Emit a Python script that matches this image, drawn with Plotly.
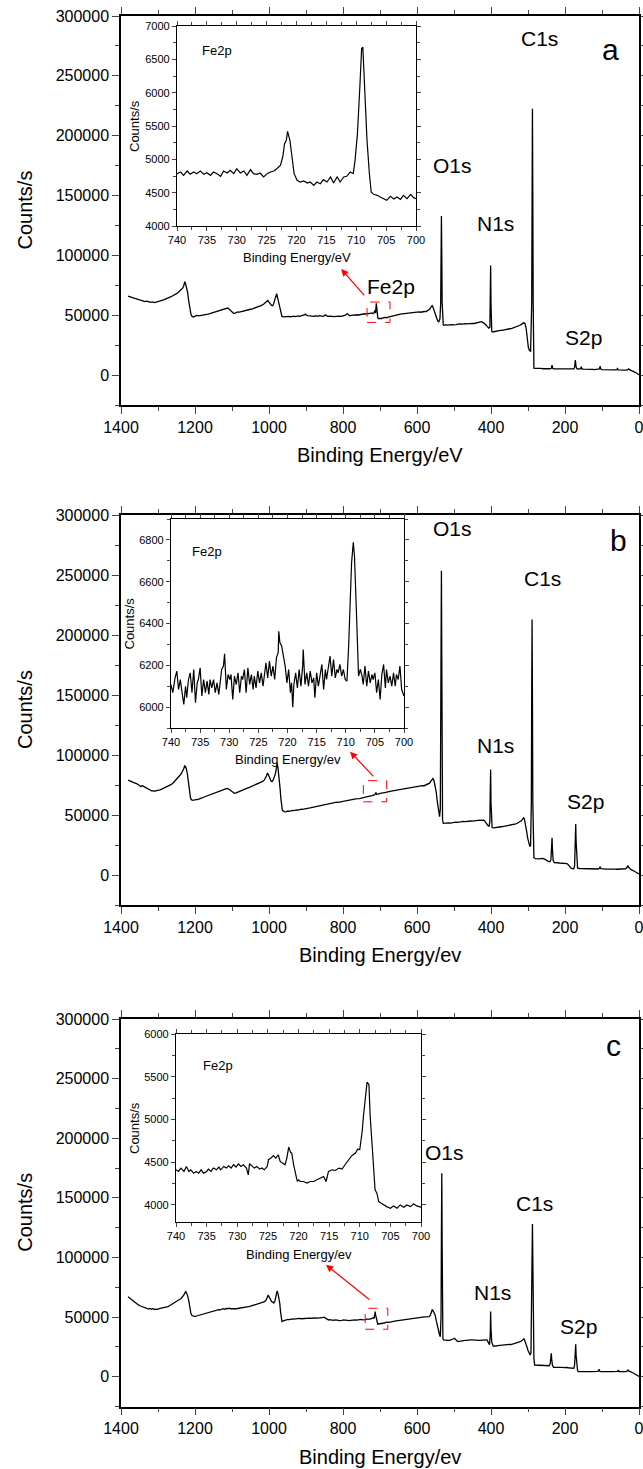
import plotly.graph_objects as go

# ---------------- survey spectra (binding energy eV, counts/s) ----------------
a_ev = [1381, 1375, 1370, 1365, 1360, 1355, 1350, 1345, 1340, 1335, 1330, 1325, 1320, 1315, 1310, 1305, 1300,
        1295, 1290, 1285, 1280, 1275, 1270, 1265, 1260, 1255, 1250, 1245, 1240, 1236, 1233, 1230, 1228, 1226,
        1223, 1220, 1217, 1214, 1211, 1208, 1204, 1200, 1195, 1190, 1185, 1180, 1175, 1170, 1165, 1160, 1155,
        1150, 1145, 1140, 1135, 1130, 1125, 1120, 1115, 1112, 1108, 1104, 1100, 1096, 1092, 1088, 1084, 1080,
        1075, 1070, 1065, 1060, 1055, 1050, 1045, 1040, 1035, 1030, 1025, 1020, 1015, 1010, 1006, 1003, 1000,
        997, 993, 990, 987, 984, 981, 979, 977, 974, 971, 968, 965, 961, 957, 953, 949, 945, 941, 937, 933,
        929, 925, 921, 917, 913, 909, 905, 902, 899, 895, 891, 887, 883, 879, 875, 871, 867, 863, 859, 855,
        851, 848, 845, 841, 837, 833, 829, 825, 821, 817, 813, 809, 805, 801, 797, 793, 789, 786, 782, 778,
        774, 770, 766, 762, 758, 754, 750, 746, 742, 738, 734, 730, 726, 722, 719, 716, 714, 712, 710, 708,
        706, 703, 700, 697, 694, 690, 686, 682, 678, 674, 670, 665, 660, 655, 650, 645, 640, 635, 630, 625,
        620, 615, 610, 605, 600, 595, 590, 585, 580, 575, 570, 566, 562, 559, 556, 553, 550, 547, 544, 541,
        538, 536, 535, 534, 533, 532, 531, 529, 526, 522, 518, 514, 510, 506, 502, 498, 494, 490, 486, 482,
        478, 474, 470, 465, 460, 455, 450, 445, 440, 435, 430, 426, 422, 418, 414, 410, 406, 403, 402, 401,
        400, 399, 398, 395, 390, 385, 380, 375, 370, 365, 360, 355, 350, 345, 340, 335, 330, 326, 322, 318,
        314, 311, 308, 305, 302, 299, 296, 293, 290, 289, 288, 287, 286, 285, 284, 280, 275, 270, 265, 260,
        255, 250, 245, 240, 237, 235, 233, 230, 225, 220, 215, 210, 205, 200, 195, 190, 185, 180, 176, 174,
        172, 170, 168, 165, 162, 158, 156, 154, 150, 145, 140, 135, 130, 125, 120, 115, 110, 107, 105, 103,
        100, 95, 90, 85, 80, 75, 70, 65, 60, 58, 56, 50, 45, 40, 35, 30, 28, 26, 22, 18, 14, 10, 6, 3, 0]
a_counts = [66000, 65200, 64800, 64300, 63900, 63200, 62800, 62500, 62000, 61400, 61800, 61000, 60700, 61200,
            60500, 61000, 61300, 61900, 62200, 62800, 63500, 64000, 64800, 65500, 66300, 67000, 68000, 69200,
            70500, 71500, 72800, 75000, 78000, 77000, 74000, 69000, 62000, 56000, 51000, 49000, 48500, 49200,
            49800, 49400, 49600, 50300, 50000, 50800, 51000, 51400, 51900, 52300, 52500, 53000, 53400, 53800,
            54300, 54800, 55500, 56000, 55200, 53800, 52500, 51600, 51800, 52300, 52700, 52600, 53100, 53500,
            53700, 54200, 54600, 55000, 55300, 55800, 56400, 57000, 57600, 58300, 59200, 60400, 61500, 62300,
            61000, 59500, 58200, 58000, 60000, 63500, 67000, 68000, 65000, 61000, 57000, 52000, 49000, 48700,
            48900, 48500, 48800, 49100, 48700, 49000, 49300, 48900, 49200, 49500, 49100, 49400, 49700, 50200,
            51000, 50000, 49600, 49300, 49500, 49200, 49000, 49400, 49100, 49300, 49600, 49200, 49000, 49400,
            50300, 49700, 49000, 49300, 48900, 49100, 48800, 49000, 48700, 49100, 49300, 49000, 49500, 49800,
            50100, 51400, 50200, 49500, 49800, 50100, 49900, 50300, 50400, 50200, 50600, 50500, 50800, 51200,
            50900, 51500, 51300, 51800, 52000, 51300, 52200, 54000, 51800, 60000, 53000, 48000, 47000, 47500,
            47100, 47600, 48000, 48200, 47800, 48400, 48800, 49200, 49600, 50000, 50300, 50600, 50900, 51100,
            50900, 51400, 51700, 52000, 52300, 52100, 52400, 52600, 52800, 52500, 52900, 53100, 53000, 53800,
            55000, 57000, 58000, 56000, 53000, 50000, 47000, 45200, 44600, 47000, 60000, 100000, 133000, 100000,
            60000, 43000, 42000, 41600, 42100, 41700, 42000, 41800, 42200, 42000, 42400, 42200, 42500, 42300,
            42700, 42600, 42900, 43000, 42800, 43100, 43000, 43200, 43100, 43500, 43700, 44000, 44600, 44000,
            43200, 42000, 40500, 39300, 40000, 70000, 91500, 60000, 40000, 36500, 36000, 36500, 36700, 37000,
            37400, 37300, 37800, 38000, 38300, 38700, 38800, 39300, 39700, 40300, 40900, 41600, 42400, 43200,
            43800, 43000, 39000, 31000, 23000, 20500, 20000, 60000, 150000, 222600, 150000, 60000, 15000, 5800,
            5600, 5700, 5400, 5600, 5300, 5500, 5200, 5400, 5300, 5600, 8400, 5500, 5200, 5300, 5100, 5300,
            5000, 5200, 5100, 5000, 5200, 5000, 4900, 5100, 6500, 12500, 7000, 5400, 5100, 5000, 5300, 7000,
            5000, 4900, 5000, 4800, 4900, 4700, 4800, 4600, 4700, 4700, 5200, 7500, 5000, 4600, 4500, 4600,
            4400, 4500, 4400, 4300, 4400, 4600, 5500, 4300, 4200, 4300, 4100, 4200, 4600, 5200, 4500, 4100,
            3600, 3000, 2300, 1500, 800, 300]

b_ev = [1381, 1376, 1371, 1366, 1361, 1357, 1353, 1349, 1346, 1343, 1340, 1336, 1332, 1328, 1324, 1320, 1316,
        1312, 1308, 1304, 1300, 1295, 1290, 1285, 1280, 1275, 1270, 1265, 1260, 1256, 1252, 1248, 1244, 1240,
        1236, 1233, 1230, 1228, 1226, 1224, 1221, 1218, 1215, 1212, 1209, 1205, 1201, 1197, 1193, 1189, 1185,
        1181, 1177, 1173, 1169, 1165, 1161, 1157, 1153, 1149, 1145, 1141, 1137, 1133, 1129, 1125, 1121, 1117,
        1113, 1109, 1105, 1101, 1097, 1093, 1089, 1085, 1081, 1077, 1073, 1069, 1065, 1061, 1057, 1053, 1049,
        1045, 1041, 1037, 1033, 1029, 1025, 1021, 1017, 1013, 1010, 1007, 1004, 1001, 998, 995, 992, 989, 986,
        983, 980, 978, 976, 974, 972, 970, 968, 966, 964, 961, 957, 953, 949, 945, 941, 937, 933, 929, 925,
        921, 917, 913, 909, 905, 901, 897, 893, 889, 885, 881, 877, 873, 869, 865, 861, 857, 853, 849, 845,
        841, 837, 833, 829, 825, 821, 817, 813, 809, 805, 801, 797, 793, 789, 785, 781, 777, 773, 769, 765,
        761, 757, 753, 749, 745, 741, 737, 733, 729, 725, 721, 717, 714, 711, 709, 706, 702, 698, 694, 690,
        686, 682, 678, 674, 670, 666, 662, 658, 654, 650, 646, 642, 638, 634, 630, 626, 622, 618, 614, 610,
        606, 602, 598, 594, 590, 586, 582, 578, 574, 570, 566, 563, 560, 557, 554, 551, 548, 545, 542, 539,
        537, 536, 535, 534, 533, 532, 531, 529, 525, 520, 515, 510, 505, 500, 495, 490, 485, 480, 475, 470,
        465, 460, 455, 450, 445, 440, 435, 430, 425, 421, 417, 413, 409, 405, 403, 402, 401, 400, 399, 397,
        393, 389, 385, 381, 377, 373, 369, 365, 361, 357, 353, 349, 345, 341, 337, 333, 329, 325, 321, 318,
        315, 312, 310, 307, 304, 301, 298, 295, 293, 291, 290, 289, 288, 287, 286, 284, 280, 275, 270, 265,
        260, 255, 250, 246, 243, 240, 238, 236, 235, 234, 232, 229, 225, 220, 215, 210, 205, 200, 195, 192,
        189, 186, 183, 180, 176, 174, 172, 171, 170, 168, 166, 160, 155, 150, 145, 140, 135, 130, 125, 120,
        115, 110, 107, 105, 103, 100, 95, 90, 85, 80, 75, 70, 65, 60, 55, 50, 45, 40, 36, 33, 30, 27, 24,
        20, 16, 12, 8, 4, 0]
b_counts = [79000, 78500, 78000, 77200, 77000, 76000, 75200, 74300, 73600, 74500, 74000, 72800, 72000, 71300,
            70800, 70200, 69900, 70300, 69800, 70400, 70500, 71000, 71500, 72200, 72800, 73600, 74400, 75300,
            76500, 77800, 78800, 80000, 81600, 83300, 85000, 86500, 89000, 91000, 90500, 89000, 85000, 78000,
            70000, 64000, 62600, 62200, 62500, 63000, 62800, 63500, 64000, 64200, 64800, 65300, 65500, 66200,
            66800, 67200, 67600, 68300, 68700, 69400, 69800, 70300, 70500, 71000, 71400, 71800, 72200, 71700,
            70800, 69800, 68800, 68000, 68400, 69000, 69400, 70100, 70600, 71000, 71500, 72200, 72600, 73100,
            73600, 74200, 74800, 75300, 75800, 76400, 76900, 77400, 78000, 79000, 80500, 82500, 85000, 83500,
            81000, 78500, 77800, 79000, 81000, 84000, 89000, 93000, 90000, 85000, 79000, 72000, 64000, 57000,
            54000, 53200, 52600, 52900, 53300, 53000, 53500, 53800, 53600, 54100, 54300, 54100, 54600, 54800,
            54700, 55100, 55200, 55400, 55700, 55900, 56200, 56400, 56800, 57100, 57300, 57700, 58000, 58200,
            58400, 58800, 59100, 59400, 59500, 59900, 60200, 60100, 60400, 60700, 60500, 60800, 61100, 61300,
            61500, 61800, 62000, 62400, 62500, 62800, 62900, 63200, 63400, 63300, 63700, 63900, 64100, 64500,
            64700, 65000, 65400, 65700, 65900, 66200, 66600, 66900, 68800, 67200, 67500, 67900, 68200, 68500,
            68400, 68800, 69100, 69300, 69600, 69900, 70100, 70300, 70700, 70900, 71100, 71400, 71600, 71900,
            72100, 72400, 72500, 72800, 73000, 73300, 73400, 73700, 73900, 74100, 74000, 74300, 74500, 74200,
            74700, 75000, 75500, 76500, 78000, 79500, 80500, 78500, 74000, 69000, 61000, 53000, 48600, 55000,
            120000, 200000, 253600, 180000, 90000, 46000, 43000, 43200, 43000, 43400, 43300, 43700, 43600, 44000,
            43900, 44300, 44200, 44600, 44500, 44800, 44700, 45000, 44900, 45200, 45300, 45400, 45700, 45600,
            45800, 45000, 43000, 41500, 40500, 45000, 70000, 88000, 60000, 42000, 39500, 39200, 39500, 39700,
            39800, 40000, 40200, 40300, 40500, 40700, 40800, 41000, 41200, 41500, 41800, 42200, 42600, 43100,
            43700, 44400, 45200, 46300, 47700, 47000, 43000, 37000, 31000, 26000, 23600, 24500, 60000, 150000,
            213000, 150000, 60000, 20000, 14500, 13600, 13300, 13500, 13700, 13900, 13200, 12500, 11500, 11000,
            11300, 13000, 25000, 31000, 22000, 12000, 10300, 10000, 10200, 10000, 9900, 10100, 9800, 9500, 8800,
            7500, 6200, 5500, 5300, 5200, 8000, 25000, 42500, 28000, 9000, 5600, 5400, 5300, 5200, 5400, 5200,
            5300, 5100, 5200, 5000, 5100, 5000, 5500, 7000, 5300, 5000, 5100, 4900, 5000, 4900, 5000, 4800, 4900,
            4800, 4900, 4700, 4800, 4700, 5200, 6200, 7800, 6000, 4800, 4200, 3700, 3000, 2200, 1400, 800]

c_ev = [1381, 1377, 1373, 1369, 1365, 1361, 1357, 1353, 1349, 1345, 1341, 1337, 1333, 1329, 1325, 1321, 1317,
        1313, 1309, 1305, 1301, 1297, 1293, 1289, 1285, 1281, 1277, 1273, 1269, 1265, 1261, 1257, 1253, 1249,
        1245, 1241, 1237, 1233, 1230, 1227, 1225, 1223, 1220, 1217, 1214, 1211, 1208, 1204, 1200, 1196, 1192,
        1188, 1184, 1180, 1176, 1172, 1168, 1164, 1160, 1156, 1152, 1148, 1144, 1140, 1136, 1132, 1128, 1124,
        1120, 1116, 1112, 1108, 1104, 1100, 1096, 1092, 1088, 1084, 1080, 1076, 1072, 1068, 1064, 1060, 1056,
        1052, 1048, 1044, 1040, 1036, 1032, 1028, 1024, 1020, 1016, 1012, 1008, 1005, 1002, 999, 996, 993, 990,
        987, 984, 981, 979, 978, 976, 973, 971, 969, 967, 965, 961, 957, 953, 949, 945, 941, 937, 933, 929,
        925, 921, 917, 913, 909, 905, 901, 897, 893, 889, 885, 881, 877, 873, 869, 865, 861, 857, 853, 850,
        847, 843, 839, 835, 831, 827, 823, 819, 815, 811, 807, 803, 799, 795, 791, 787, 783, 779, 775, 771,
        767, 763, 759, 755, 751, 747, 743, 739, 735, 731, 727, 723, 720, 718, 716, 714, 713, 712, 710, 708,
        706, 703, 700, 697, 694, 691, 688, 685, 682, 679, 676, 672, 668, 664, 660, 656, 652, 648, 644, 640,
        636, 632, 628, 624, 620, 616, 612, 608, 604, 600, 596, 592, 588, 584, 580, 576, 572, 567, 564, 561,
        559, 557, 554, 551, 548, 545, 542, 539, 537, 535, 534, 533, 532, 531, 530, 528, 524, 520, 516, 512,
        508, 504, 501, 499, 497, 494, 490, 486, 482, 478, 474, 470, 466, 462, 458, 454, 450, 446, 442, 438,
        434, 430, 426, 422, 418, 414, 411, 408, 406, 404, 402, 401, 400, 398, 396, 394, 390, 386, 382, 378,
        374, 370, 366, 362, 358, 354, 350, 346, 342, 339, 335, 331, 327, 323, 319, 316, 313, 311, 309, 307,
        305, 303, 300, 297, 294, 292, 290, 289, 288, 287, 286, 284, 282, 278, 274, 270, 266, 262, 258, 254,
        250, 246, 243, 240, 238, 237, 236, 234, 231, 227, 223, 219, 215, 211, 207, 203, 199, 195, 191, 187,
        183, 179, 176, 174, 172, 171, 170, 168, 166, 164, 160, 155, 150, 145, 140, 135, 130, 125, 120, 115,
        111, 108, 106, 102, 98, 94, 90, 86, 82, 78, 74, 70, 66, 62, 58, 56, 54, 50, 46, 42, 38, 34, 32, 30,
        28, 26, 22, 18, 14, 10, 6, 3, 0]
c_counts = [67000, 66000, 64500, 63800, 62700, 61600, 61000, 60200, 59500, 59000, 58600, 58000, 57600, 57400,
            56700, 57300, 56600, 57100, 56400, 56700, 56500, 57000, 57300, 57100, 57500, 58000, 58300, 58800,
            59500, 60200, 60900, 61700, 62400, 63200, 64000, 64900, 65800, 67000, 68500, 70500, 71300, 70200,
            68000, 64000, 58000, 53000, 51300, 50800, 50400, 50900, 51300, 51700, 51900, 52300, 52600, 53000,
            53400, 53900, 54500, 54800, 55200, 55400, 55800, 56000, 56300, 56100, 56700, 57000, 56600, 57200,
            57000, 57400, 57000, 57300, 57100, 56800, 57000, 57300, 57100, 57400, 57400, 57800, 58100, 58400,
            58500, 58900, 59300, 59600, 60000, 60400, 60800, 61200, 61700, 62100, 62500, 63000, 64200, 66500,
            68500, 66500, 64000, 63000, 62500, 61800, 63500, 67000, 70000, 71900, 70000, 66000, 62000, 55000,
            49000, 46300, 46800, 47200, 47700, 48000, 47800, 48200, 48400, 48300, 48600, 48400, 48700, 48900,
            48600, 48800, 49000, 48800, 49100, 49000, 49200, 49000, 49300, 49100, 49300, 49200, 49500, 49400,
            49600, 49700, 49900, 49000, 48200, 47600, 47900, 47500, 47300, 47600, 47200, 47400, 47100, 47500,
            47300, 47600, 47400, 47200, 47500, 47000, 47300, 47600, 47400, 47700, 47500, 47800, 47600, 48000,
            47700, 48100, 47900, 48200, 48000, 48300, 48600, 49000, 49500, 48800, 52000, 54600, 52000, 49000,
            46000, 44000, 44500, 44300, 44800, 44600, 45100, 44900, 45500, 45300, 45700, 45600, 46000, 46300,
            46200, 46600, 46800, 47000, 47200, 47500, 47700, 47600, 48000, 48300, 48200, 48600, 49000, 48900,
            49200, 49400, 49500, 49700, 49600, 50000, 50000, 50200, 50100, 50300, 50400, 51500, 54000, 56000,
            55500, 53500, 51800, 47000, 42000, 37000, 35000, 33600, 50000, 120000, 170700, 110000, 50000, 32000,
            30800, 30500, 30700, 30400, 30500, 30800, 31000, 31800, 32200, 31500, 30200, 29500, 29700, 30000,
            30200, 30400, 30500, 30400, 30700, 30600, 30800, 30800, 30600, 30900, 30700, 30500, 30500, 30700,
            30600, 30900, 30800, 30800, 29500, 28000, 26800, 35000, 54600, 40000, 29000, 26000, 25700, 25900,
            25600, 26000, 26200, 26100, 26400, 26600, 26500, 26800, 27000, 27100, 27000, 27300, 27400, 27800,
            28300, 28700, 29200, 29700, 30200, 31200, 32000, 30500, 28000, 26000, 25200, 22000, 19500, 18200,
            20000, 60000, 100000, 128000, 100000, 40000, 15000, 9800, 9700, 9500, 9600, 9400, 9300, 9400, 9200,
            9300, 9000, 9200, 11000, 16000, 19600, 15000, 9500, 7800, 7900, 7700, 7800, 7900, 7700, 7800, 7600,
            7800, 7700, 7500, 7300, 7200, 7100, 7000, 10000, 20000, 27200, 18000, 8000, 5000, 4300, 4200, 4300,
            4200, 4300, 4100, 4200, 4300, 4200, 4300, 4200, 4500, 6200, 4500, 4200, 4300, 4200, 4100, 4300, 4200,
            4300, 4200, 4100, 4200, 4300, 4400, 5500, 4300, 4200, 4100, 4200, 4100, 4300, 4800, 5600, 4800, 4300,
            4000, 3500, 2800, 2100, 1300, 600, 200]

# ---------------- Fe2p insets ----------------
ia_ev = [740, 739.4, 738.9, 738.3, 737.8, 737.2, 736.7, 736.1, 735.5, 735, 734.4, 733.9, 733.3, 732.7, 732.2,
         731.6, 731.1, 730.5, 730, 729.4, 728.8, 728.3, 727.7, 727.2, 726.6, 726.1, 725.5, 724.9, 724.4, 723.8,
         723.3, 722.7, 722.3, 722, 721.7, 721.5, 721.1, 720.8, 720.4, 719.9, 719.4, 718.8, 718.2, 717.7, 717.1,
         716.6, 716, 715.5, 714.9, 714.3, 713.8, 713.2, 712.7, 712.1, 711.6, 711, 710.5, 710.2, 709.8, 709.4,
         709.1, 708.9, 708.6, 708.2, 707.8, 707.5, 707.1, 706.5, 706, 705.4, 704.9, 704.3, 703.7, 703.2, 702.6,
         702.1, 701.5, 700.9, 700.4, 700]
ia_counts = [4785, 4810, 4760, 4825, 4775, 4810, 4785, 4825, 4775, 4800, 4760, 4810, 4785, 4745, 4825, 4795,
             4835, 4785, 4860, 4795, 4825, 4760, 4845, 4785, 4775, 4795, 4735, 4785, 4810, 4825, 4860, 4910,
             5035, 5235, 5285, 5420, 5285, 5035, 4785, 4685, 4660, 4675, 4645, 4660, 4610, 4660, 4635, 4695,
             4660, 4735, 4645, 4735, 4660, 4735, 4745, 4810, 4785, 4985, 5385, 6085, 6660, 6685, 6135, 5285,
             4785, 4510, 4475, 4460, 4435, 4410, 4385, 4445, 4405, 4435, 4400, 4460, 4410, 4475, 4425, 4410]

ib_ev = [740, 739.7, 739.3, 739, 738.7, 738.4, 738.1, 737.8, 737.5, 737.3, 737, 736.7, 736.4, 736.1, 735.8,
         735.5, 735.3, 735, 734.7, 734.4, 734.1, 733.8, 733.5, 733.3, 733, 732.7, 732.4, 732.1, 731.8, 731.5,
         731.3, 731, 730.8, 730.5, 730.2, 729.9, 729.7, 729.4, 729.1, 728.8, 728.5, 728.2, 727.9, 727.7, 727.4,
         727.1, 726.8, 726.5, 726.2, 725.9, 725.7, 725.4, 725.1, 724.8, 724.5, 724.2, 723.9, 723.7, 723.4,
         723.1, 722.8, 722.5, 722.2, 721.9, 721.6, 721.5, 721.3, 721, 720.7, 720.4, 720.1, 719.8, 719.5, 719.3,
         719.1, 718.9, 718.6, 718.3, 718, 717.7, 717.4, 717.3, 717, 716.7, 716.4, 716.1, 715.8, 715.5, 715.3,
         715, 714.7, 714.4, 714.1, 713.8, 713.5, 713.3, 713, 712.7, 712.4, 712.1, 711.8, 711.5, 711.3, 711,
         710.7, 710.4, 710.1, 709.8, 709.5, 709.3, 709, 708.7, 708.5, 708.2, 708, 707.8, 707.5, 707.2, 707,
         706.7, 706.4, 706.1, 705.8, 705.5, 705.3, 705, 704.7, 704.4, 704.1, 703.8, 703.5, 703.2, 703, 702.7,
         702.4, 702.1, 701.8, 701.5, 701.3, 701, 700.7, 700.4, 700]
ib_counts = [6108, 6069, 6140, 6172, 6084, 6132, 6069, 6013, 6100, 6045, 6132, 6164, 6069, 6180, 6021, 6116,
             6132, 6188, 6053, 6132, 6069, 6124, 6061, 6132, 6092, 6132, 6069, 6116, 6061, 6148, 6180, 6196,
             6255, 6084, 6156, 6132, 6156, 6037, 6148, 6108, 6164, 6069, 6148, 6132, 6180, 6069, 6188, 6108,
             6156, 6084, 6148, 6092, 6172, 6116, 6164, 6100, 6172, 6212, 6140, 6220, 6148, 6196, 6132, 6236,
             6260, 6363, 6308, 6292, 6244, 6196, 6116, 6180, 6069, 6116, 6000, 6108, 6164, 6092, 6180, 6100,
             6196, 6276, 6108, 6164, 6100, 6172, 6116, 6140, 6045, 6164, 6100, 6156, 6204, 6084, 6180, 6132,
             6196, 6244, 6148, 6228, 6140, 6180, 6164, 6204, 6148, 6180, 6132, 6124, 6292, 6483, 6690, 6789,
             6722, 6483, 6260, 6148, 6180, 6148, 6108, 6196, 6100, 6172, 6116, 6156, 6132, 6164, 6069, 6132,
             6037, 6156, 6204, 6092, 6180, 6116, 6148, 6100, 6164, 6100, 6156, 6132, 6196, 6084, 6053]

ic_ev = [740, 739.6, 739.2, 738.7, 738.3, 737.9, 737.6, 737.1, 736.7, 736.3, 735.9, 735.5, 735, 734.7, 734.3,
         733.9, 733.4, 733, 732.7, 732.2, 731.8, 731.4, 731, 730.6, 730.2, 729.8, 729.4, 729, 728.5, 728.2, 728,
         727.6, 727.2, 726.8, 726.3, 726, 725.6, 725.1, 724.9, 724.5, 724.1, 723.7, 723.3, 723, 722.5, 722.2,
         721.9, 721.6, 721.3, 721.1, 720.8, 720.5, 720.2, 720, 719.7, 719.2, 718.6, 718.1, 717.5, 717, 716.4,
         715.9, 715.5, 715.1, 714.5, 714, 713.4, 712.9, 712.4, 711.8, 711.3, 710.7, 710.3, 710, 709.8, 709.6,
         709.4, 709.1, 708.8, 708.5, 708.3, 708, 707.7, 707.5, 707.2, 706.9, 706.5, 706.1, 705.6, 705, 704.5,
         703.9, 703.4, 702.8, 702.3, 701.7, 701.2, 700.7, 700]
ic_counts = [4411, 4392, 4431, 4392, 4450, 4392, 4411, 4372, 4392, 4372, 4411, 4372, 4392, 4419, 4392, 4431,
             4411, 4443, 4411, 4450, 4431, 4458, 4431, 4470, 4443, 4481, 4450, 4470, 4431, 4352, 4481, 4458,
             4431, 4450, 4419, 4431, 4411, 4450, 4529, 4548, 4576, 4548, 4587, 4509, 4490, 4470, 4548, 4677,
             4615, 4607, 4470, 4372, 4274, 4294, 4274, 4274, 4255, 4274, 4274, 4294, 4313, 4333, 4274, 4392,
             4411, 4403, 4431, 4419, 4470, 4529, 4576, 4607, 4654, 4646, 4744, 4862, 5038, 5273, 5437, 5410,
             5038, 4724, 4294, 4176, 4137, 4039, 4020, 4000, 3980, 3961, 3988, 3961, 4000, 3973, 4000, 3980,
             4012, 3988, 3973]

for _xs, _ys in [(a_ev, a_counts), (b_ev, b_counts), (c_ev, c_counts),
                 (ia_ev, ia_counts), (ib_ev, ib_counts), (ic_ev, ic_counts)]:
    assert len(_xs) == len(_ys), (len(_xs), len(_ys))

# ---------------- peak labels ----------------
a_names = ["C1s", "O1s", "N1s", "Fe2p", "S2p"]
a_label_ev = [270, 504, 387, 670, 150]
a_label_y = [281000, 175000, 127000, 74000, 31000]
b_names = ["O1s", "C1s", "N1s", "S2p"]
b_label_ev = [504, 260, 387, 144]
b_label_y = [289000, 247000, 108000, 61000]
c_names = ["O1s", "C1s", "N1s", "S2p"]
c_label_ev = [525, 283, 397, 163]
c_label_y = [188000, 145000, 70500, 42500]
panel_letters = ["a", "b", "c"]

# the page's default body margin is removed (post_script below), so the figure fills the window exactly
W, H = 643, 1469
FONT = "Liberation Sans, Arial, sans-serif"

def px_x(p):
    return p / W

def px_y(p):
    return 1 - p / H

main_dom = [(16, 405), (515, 905), (1019, 1406.5)]
inset_dom = [((177, 416), (26, 226)), ((171, 404), (519, 728)), ((176, 421), (1034, 1222))]
inset_ranges = [(4000, 7000, 500, 250), (5900, 6900, 200, 100), (3800, 6000, 500, 250)]
inset_tick0 = [4000, 6000, 4000]
main_xtitles = ["Binding Energy/eV", "Binding Energy/ev", "Binding Energy/ev"]
inset_xtitles = ["Binding Energy/eV", "Binding Energy/ev", "Binding Energy/ev"]

fig = go.Figure()
surveys = [(a_ev, a_counts), (b_ev, b_counts), (c_ev, c_counts)]
insets = [(ia_ev, ia_counts), (ib_ev, ib_counts), (ic_ev, ic_counts)]

for i, (xv, yv) in enumerate(surveys):
    n = i + 1
    fig.add_trace(go.Scatter(x=xv, y=yv, mode="lines", line=dict(color="black", width=1.3),
                             xaxis="x" if n == 1 else f"x{n}", yaxis="y" if n == 1 else f"y{n}",
                             showlegend=False, hoverinfo="skip"))
for i, (xv, yv) in enumerate(insets):
    n = i + 4
    fig.add_trace(go.Scatter(x=xv, y=yv, mode="lines", line=dict(color="black", width=1.2),
                             xaxis=f"x{n}", yaxis=f"y{n}", showlegend=False, hoverinfo="skip"))

annotations = []
shapes = []

layout = {}
for i in range(3):
    n = i + 1
    xk = "xaxis" if n == 1 else f"xaxis{n}"
    yk = "yaxis" if n == 1 else f"yaxis{n}"
    ya = "y" if n == 1 else f"y{n}"
    xa = "x" if n == 1 else f"x{n}"
    top, bot = main_dom[i]
    layout[xk] = dict(domain=[px_x(121), px_x(639)], anchor=ya, range=[1400, 0], automargin=False,
                      tickmode="linear", tick0=0, dtick=200, ticks="outside", ticklen=7, tickwidth=1.3,
                      minor=dict(dtick=100, ticks="outside", ticklen=4, tickwidth=1.2),
                      showline=True, linewidth=1.5, linecolor="black", mirror="ticks",
                      showgrid=False, zeroline=False, ticklabeloverflow="allow",
                      tickfont=dict(family=FONT, size=16, color="black"))
    layout[yk] = dict(domain=[px_y(bot), px_y(top)], anchor=xa, range=[-25000, 300000], automargin=False,
                      tickmode="linear", tick0=0, dtick=50000, tickformat="d",
                      ticks="outside", ticklen=7, tickwidth=1.3,
                      minor=dict(dtick=25000, ticks="outside", ticklen=4, tickwidth=1.2),
                      showline=True, linewidth=1.5, linecolor="black", mirror="ticks",
                      showgrid=False, zeroline=False, ticklabeloverflow="allow",
                      tickfont=dict(family=FONT, size=16, color="black"))
    annotations.append(dict(text="Counts/s", x=px_x(25), y=px_y((top + bot) / 2), xref="paper", yref="paper",
                            textangle=-90, showarrow=False, xanchor="center", yanchor="middle",
                            font=dict(family=FONT, size=20, color="black")))
    annotations.append(dict(text=main_xtitles[i], x=px_x(380), y=px_y(bot + 50), xref="paper", yref="paper",
                            showarrow=False, xanchor="center", yanchor="middle",
                            font=dict(family=FONT, size=20, color="black")))

for i in range(3):
    n = i + 4
    (xl, xr), (yt, yb) = inset_dom[i]
    lo, hi, dt, mdt = inset_ranges[i]
    layout[f"xaxis{n}"] = dict(domain=[px_x(xl), px_x(xr)], anchor=f"y{n}", range=[740, 700], automargin=False,
                               tickmode="linear", tick0=700, dtick=5, ticks="outside", ticklen=4, tickwidth=1,
                               minor=dict(dtick=2.5, ticks="outside", ticklen=2.5, tickwidth=1),
                               showline=True, linewidth=1.2, linecolor="black", mirror="ticks",
                               showgrid=False, zeroline=False, ticklabeloverflow="allow",
                               tickfont=dict(family=FONT, size=11, color="black"))
    layout[f"yaxis{n}"] = dict(domain=[px_y(yb), px_y(yt)], anchor=f"x{n}", range=[lo, hi], automargin=False,
                               tickmode="linear", tick0=inset_tick0[i], dtick=dt, tickformat="d",
                               ticks="outside", ticklen=4, tickwidth=1,
                               minor=dict(dtick=mdt, ticks="outside", ticklen=2.5, tickwidth=1),
                               showline=True, linewidth=1.2, linecolor="black", mirror="ticks",
                               showgrid=False, zeroline=False, ticklabeloverflow="allow",
                               tickfont=dict(family=FONT, size=11, color="black"))
    annotations.append(dict(text="Counts/s", x=px_x(xl - 42), y=px_y((yt + yb) / 2), xref="paper", yref="paper",
                            textangle=-90, showarrow=False, xanchor="center", yanchor="middle",
                            font=dict(family=FONT, size=13, color="black")))
    annotations.append(dict(text=inset_xtitles[i], x=px_x((xl + xr) / 2), y=px_y(yb + 32), xref="paper",
                            yref="paper", showarrow=False, xanchor="center", yanchor="middle",
                            font=dict(family=FONT, size=13, color="black")))

lab_font = dict(family=FONT, size=21, color="black")

def add_labels(names, evs, ys, xa, ya):
    for t, xv, yv in zip(names, evs, ys):
        annotations.append(dict(text=t, x=xv, y=yv, xref=xa, yref=ya, showarrow=False, font=lab_font))

add_labels(a_names, a_label_ev, a_label_y, "x", "y")
add_labels(b_names, b_label_ev, b_label_y, "x2", "y2")
add_labels(c_names, c_label_ev, c_label_y, "x3", "y3")

letter_pos = [(78, 272000, "x", "y"), (55, 279000, "x2", "y2"), (70, 278000, "x3", "y3")]
for letter, (xv, yv, xa, ya) in zip(panel_letters, letter_pos):
    annotations.append(dict(text=letter, x=xv, y=yv, xref=xa, yref=ya, showarrow=False,
                            font=dict(family=FONT, size=30, color="black")))

fe_pos = [(733.3, 6640, "x4", "y4"), (733.9, 6744, "x5", "y5"), (733.1, 5637, "x6", "y6")]
for xv, yv, xa, ya in fe_pos:
    annotations.append(dict(text="Fe2p", x=xv, y=yv, xref=xa, yref=ya, showarrow=False,
                            font=dict(family=FONT, size=13, color="black")))

boxes = [(735, 673, 44000, 61000, "x", "y"), (745, 682, 61000, 78600, "x2", "y2"),
         (740, 679, 39800, 57400, "x3", "y3")]
for x0, x1, y0, y1, xa, ya in boxes:
    shapes.append(dict(type="rect", x0=x0, x1=x1, y0=y0, y1=y1, xref=xa, yref=ya,
                       line=dict(color="red", width=1, dash="dash")))
arrows = [(739, 65400, 805, 88600, "x", "y"), (714, 81000, 781, 102800, "x2", "y2"),
          (725, 63800, 846, 93800, "x3", "y3")]
for tx, ty, hx, hy, xa, ya in arrows:
    annotations.append(dict(text="", x=hx, y=hy, ax=tx, ay=ty, xref=xa, yref=ya, axref=xa, ayref=ya,
                            showarrow=True, arrowhead=2, arrowsize=1.2, arrowwidth=1.2, arrowcolor="red"))

fig.update_layout(**layout)
fig.update_layout(width=W, height=H, margin=dict(l=0, r=0, t=0, b=0, autoexpand=False),
                  paper_bgcolor="white", plot_bgcolor="white",
                  annotations=annotations, shapes=shapes,
                  font=dict(family=FONT, color="black"))
fig.write_html("out.html", config={"displayModeBar": False},
               post_script="document.body.style.margin='0';"
                           "document.documentElement.style.overflow='hidden';")
